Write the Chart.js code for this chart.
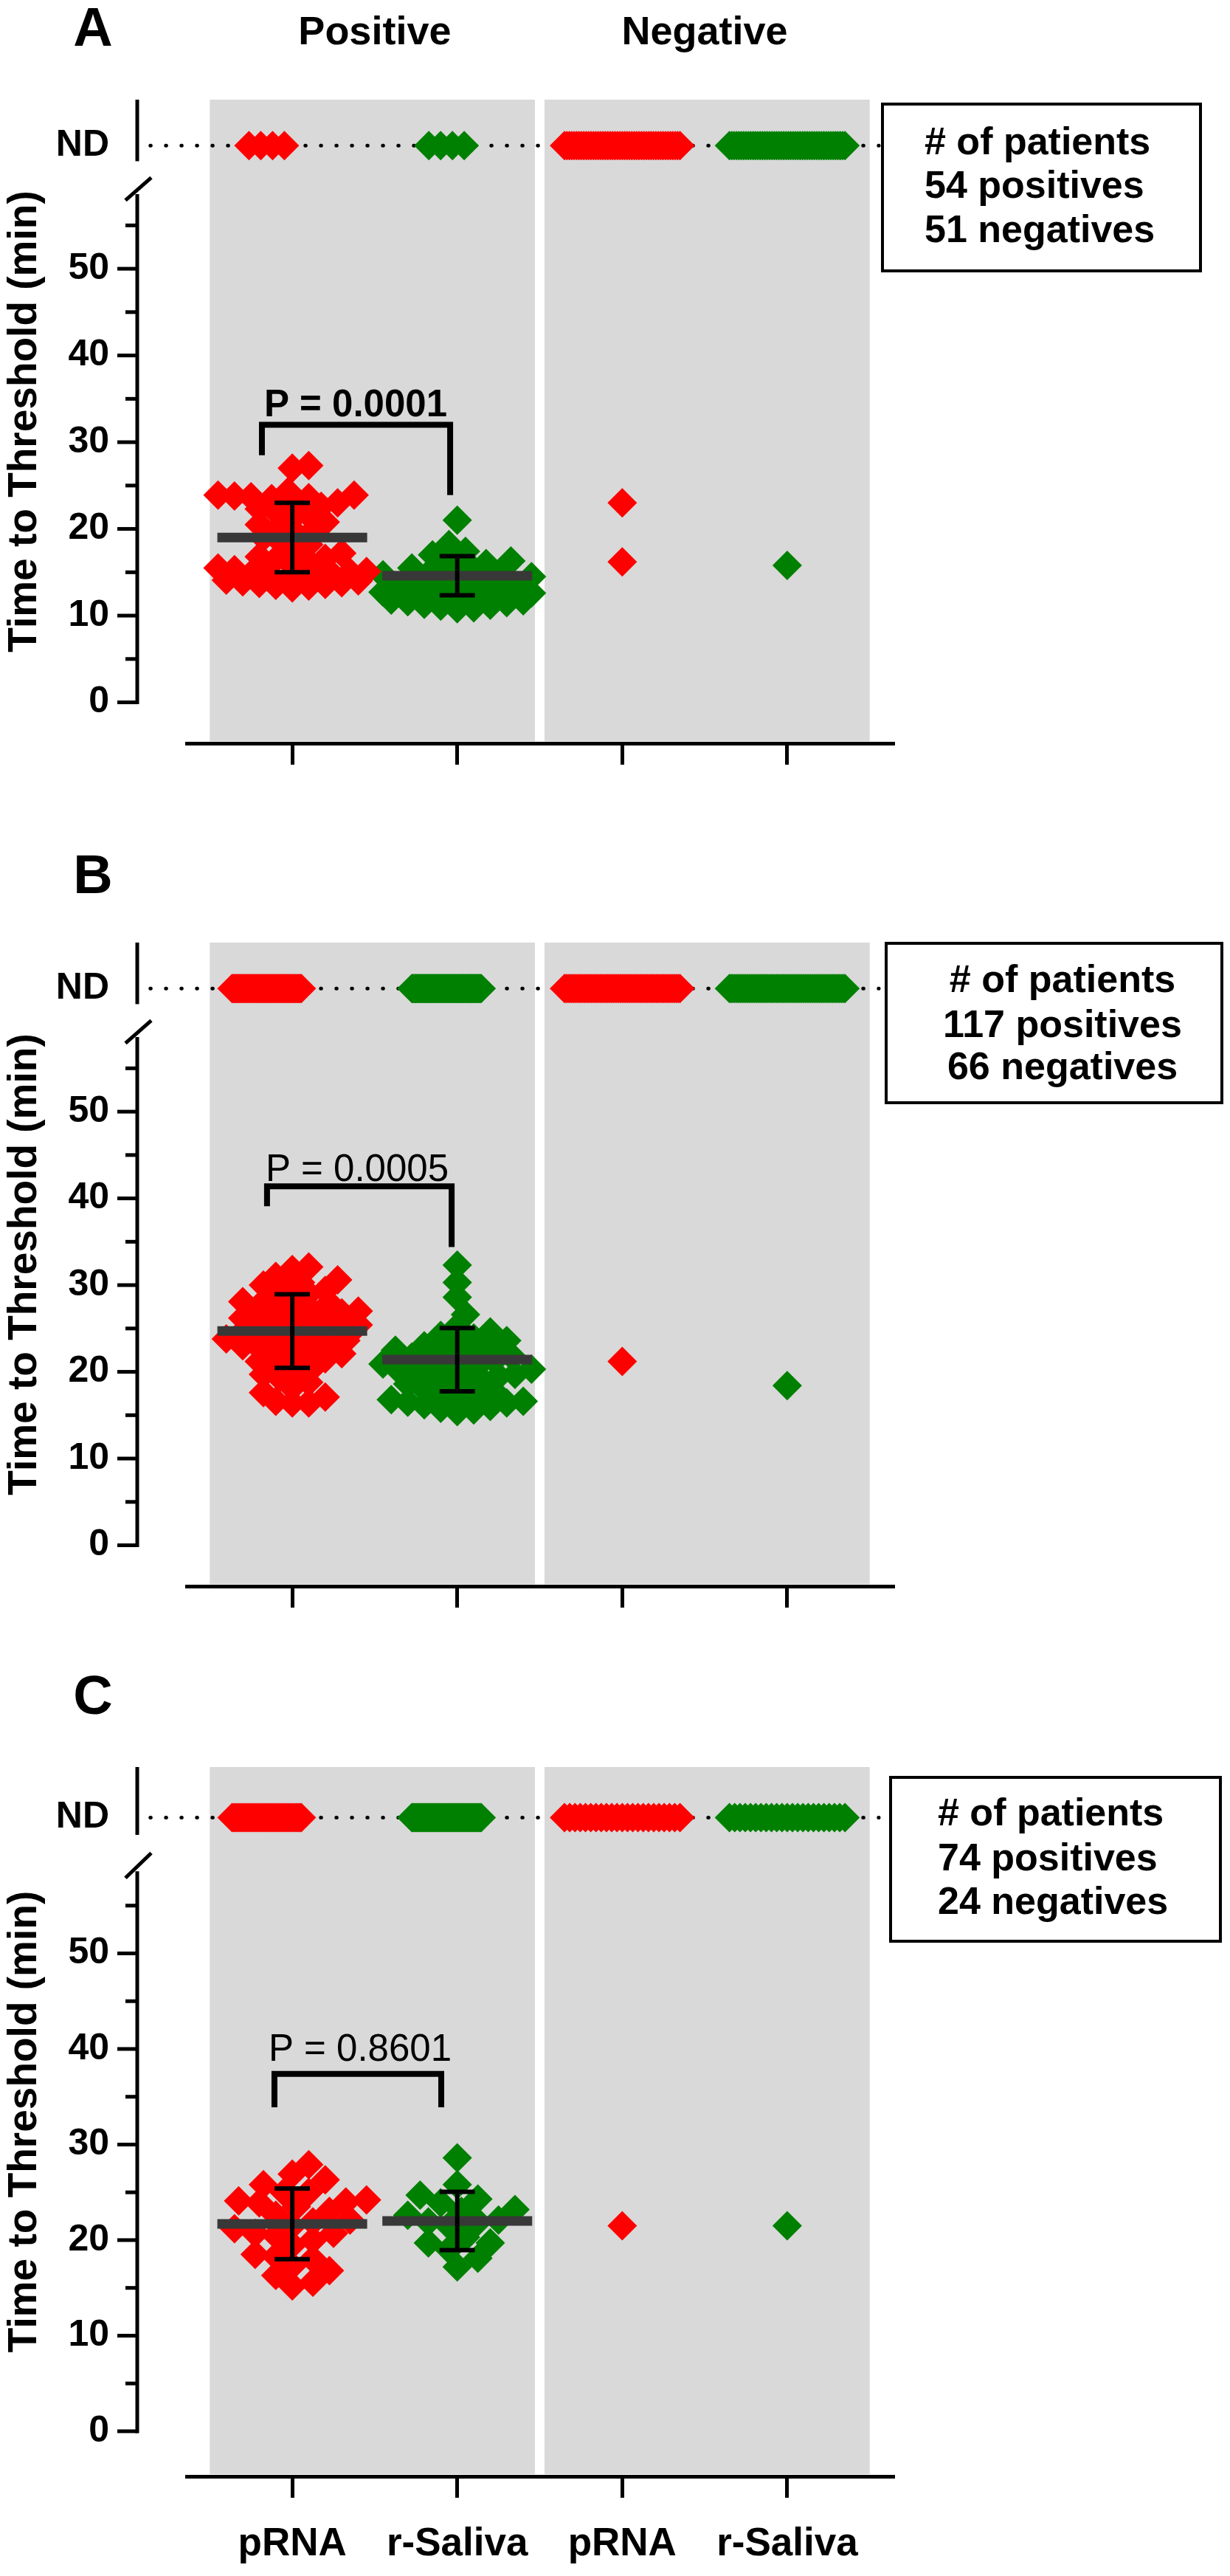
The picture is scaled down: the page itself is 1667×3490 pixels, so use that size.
<!DOCTYPE html>
<html>
<head>
<meta charset="utf-8">
<title>Time to Threshold</title>
<script src="https://cdn.jsdelivr.net/npm/chart.js@4.4.1/dist/chart.umd.min.js"></script>
<style>
  body { margin: 0; background: #fff; }
  #wrap { position: relative; width: 1667px; height: 3490px; overflow: hidden; }
  .panel { position: absolute; left: 0; width: 1667px; }
</style>
</head>
<body>
<div id="wrap">
  <div class="panel" id="boxA" style="top:0;height:1142px"><canvas id="chartA"></canvas></div>
  <div class="panel" id="boxB" style="top:1142px;height:1142px"><canvas id="chartB"></canvas></div>
  <div class="panel" id="boxC" style="top:2259px;height:1231px"><canvas id="chartC"></canvas></div>
</div>
<script>
const RED = '#ff0000';
const GREEN = '#008000';
const BAND = '#d9d9d9';
const INK = '#000000';
const MEAN_INK = '#383838';
const FONT = "'Liberation Sans', Arial, Helvetica, sans-serif";

const categories = ['pRNA', 'r-Saliva', 'pRNA', 'r-Saliva'];
const groupLabels = ['Positive', 'Negative'];
const yTicks = [0, 10, 20, 30, 40, 50];
const yMinorTicks = [5, 15, 25, 35, 45, 55];
const ND_LEVEL = 64.2;   // where the "not detected" row sits on the axis

// ---- panel A ----
const aPosPrna = [27.3, 27.0, 24.3, 23.9, 23.8, 23.7, 23.6, 23.5, 23.9, 23.0, 22.6, 22.3, 22.0, 22.8, 21.6, 21.2,
  20.8, 20.5, 20.2, 19.8, 19.4, 19.0, 18.6, 18.2, 17.6, 17.2, 16.8, 16.5, 16.2, 16.6, 15.8, 15.5, 15.3, 15.0, 14.8,
  14.6, 14.5, 14.3, 14.2, 14.0, 13.9, 13.8, 13.6, 13.5, 13.4, 13.2, 14.4, 14.1, 13.7, 15.1];
const aPosSaliva = [21.0, 18.2, 17.4, 17.0, 16.6, 16.3, 16.0, 15.8, 15.5, 15.3, 15.1, 14.9, 14.7, 14.5, 14.4, 14.2,
  14.1, 13.9, 13.8, 13.7, 13.6, 13.5, 13.4, 13.3, 13.2, 13.1, 13.0, 13.0, 12.9, 12.8, 12.7, 12.6, 12.6, 12.5, 12.4,
  12.3, 12.2, 12.1, 12.0, 11.9, 11.8, 11.7, 11.6, 11.5, 11.3, 11.2, 11.1, 10.9, 10.8, 12.9];
const aNegPrna = [23.0, 16.2];
const aNegSaliva = [15.8];
const aNdCounts = [4, 4, 49, 50];
const aMeans = [19.0, 14.6];
const aSds = [4.0, 2.25];
const aBracket = [28.5, 32.0, 23.9];
const aBracketX = [-0.184, 0.957];
const aPText = 'P = 0.0001';
const aPatients = ['# of patients', '54 positives', '51 negatives'];

// ---- panel B ----
const bPosPrna = [32.1, 31.8, 31.0, 30.6, 30.3, 30.0, 29.7, 29.4, 29.0, 28.7, 28.4, 28.1, 27.9, 27.6, 27.4, 27.2,
  27.0, 26.8, 26.6, 26.4, 26.2, 26.0, 25.8, 25.6, 25.4, 25.2, 25.0, 24.8, 24.6, 24.4, 24.2, 24.0, 23.8, 23.6, 23.4,
  23.2, 23.0, 22.8, 22.6, 22.4, 22.1, 21.8, 21.5, 21.2, 20.9, 20.5, 20.1, 19.7, 19.3, 18.8, 18.2, 17.6, 17.1, 16.6,
  16.4, 16.4];
const bPosSaliva = [32.3, 30.3, 28.6, 26.6, 25.2, 24.6, 24.2, 23.9, 23.6, 23.3, 23.0, 22.8, 22.5, 22.3, 22.1, 21.9,
  21.7, 21.5, 21.3, 21.1, 20.9, 20.7, 20.5, 20.3, 20.1, 19.9, 19.7, 19.5, 19.3, 19.1, 18.9, 18.6, 18.3, 18.0, 17.7,
  17.4, 17.1, 16.8, 16.6, 16.4, 16.2, 16.0, 15.8, 15.6, 15.4, 16.5, 17.0, 20.0];
const bNegPrna = [21.2];
const bNegSaliva = [18.4];
const bNdCounts = [61, 69, 65, 65];
const bMeans = [24.7, 21.4];
const bSds = [4.25, 3.65];
const bBracket = [39.1, 41.4, 34.4];
const bBracketX = [-0.153, 0.966];
const bPText = 'P = 0.0005';
const bPatients = ['# of patients', '117 positives', '66 negatives'];

// ---- panel C ----
const cPosPrna = [27.9, 26.9, 26.3, 25.8, 25.0, 25.0, 24.1, 24.0, 23.9, 24.2, 23.5, 23.0, 22.6, 22.1, 21.9, 21.5,
  21.2, 20.7, 20.5, 20.7, 20.0, 19.5, 18.5, 18.3, 18.0, 17.3, 16.8, 16.3, 15.6, 15.2];
const cPosSaliva = [28.6, 25.8, 24.7, 24.3, 23.9, 23.2, 23.0, 22.6, 22.1, 21.9, 21.9, 21.5, 20.3, 19.7, 19.7, 19.0,
  18.1, 17.2];
const cNegPrna = [21.5];
const cNegSaliva = [21.5];
const cNdCounts = [44, 56, 23, 23];
const cMeans = [21.7, 22.0];
const cSds = [3.7, 3.05];
const cBracket = [33.9, 37.4, 33.9];
const cBracketX = [-0.108, 0.903];
const cPText = 'P = 0.8601';
const cPatients = ['# of patients', '74 positives', '24 negatives'];

// beeswarm placement: px per unit on each axis, offsets in category units
const X_PX = 223.6;
const Y_PX = 13.756;
const SWARM_STEP = 0.025;
const SWARM_SLOTS = 18;
const ND_STEP = 0.0715;
const ND_SPAN = [0.42, 0.42, 0.70, 0.70];
const ND_SHIFT = [-0.155, -0.065, 0, 0];

function swarm(values, center, minDist) {
  const placed = [];
  values.slice().sort((a, b) => a - b).forEach(v => {
    let chosen = null, fallback = 0, bestGap = -1;
    for (let k = 0; k <= SWARM_SLOTS && chosen === null; k++) {
      const slots = k === 0 ? [0] : [k, -k];
      for (const s of slots) {
        const dx = s * SWARM_STEP;
        let gap = Infinity;
        placed.forEach(p => {
          gap = Math.min(gap, Math.hypot((p.dx - dx) * X_PX, (p.y - v) * Y_PX));
        });
        if (gap >= minDist) { chosen = dx; break; }
        if (gap > bestGap) { bestGap = gap; fallback = dx; }
      }
    }
    placed.push({ dx: chosen === null ? fallback : chosen, y: v });
  });
  return placed.map(p => ({ x: center + p.dx, y: p.y }));
}

function ndRow(count, i) {
  const step = count > 1 ? Math.min(ND_STEP, ND_SPAN[i] / (count - 1)) : 0;
  const pts = [];
  for (let k = 0; k < count; k++) {
    pts.push({ x: i + ND_SHIFT[i] + (k - (count - 1) / 2) * step, y: ND_LEVEL });
  }
  return pts;
}

function segment(pairs, color, width, order) {
  return {
    type: 'line',
    data: pairs.map(([x, y]) => ({ x, y })),
    borderColor: color,
    borderWidth: width,
    borderJoinStyle: 'miter',
    pointRadius: 0,
    tension: 0,
    clip: false,
    order
  };
}

function stroke(ctx, pts) {
  ctx.beginPath();
  ctx.moveTo(pts[0][0], pts[0][1]);
  pts.slice(1).forEach(p => ctx.lineTo(p[0], p[1]));
  ctx.stroke();
}

function createPanel(cfg) {
  const groups = [cfg.posPrna, cfg.posSaliva, cfg.negPrna, cfg.negSaliva];
  const datasets = [];

  // dotted ND line
  datasets.push({
    type: 'line',
    data: [{ x: -0.86, y: ND_LEVEL }, { x: 3.555, y: ND_LEVEL }],
    borderColor: INK,
    borderWidth: 5,
    borderDash: [0.5, 20.5],
    borderCapStyle: 'round',
    pointRadius: 0,
    clip: false,
    order: 10
  });

  groups.forEach((values, i) => {
    const color = i % 2 === 0 ? RED : GREEN;
    datasets.push({
      type: 'scatter',
      data: swarm(values, i, cfg.spacing).concat(ndRow(cfg.ndCounts[i], i)),
      pointStyle: 'rectRot',
      pointRadius: 20,
      pointHoverRadius: 20,
      pointBackgroundColor: color,
      pointBorderWidth: 0,
      backgroundColor: color,
      borderColor: color,
      clip: false,
      order: 5
    });
  });

  cfg.means.forEach((m, i) => {
    const sd = cfg.sds[i];
    datasets.push(segment([[i - 0.454, m], [i + 0.454, m]], MEAN_INK, 13, 3));
    datasets.push(segment([[i, m - sd], [i, m + sd]], INK, 6, 2));
    datasets.push(segment([[i - 0.107, m + sd], [i + 0.107, m + sd]], INK, 6, 2));
    datasets.push(segment([[i - 0.107, m - sd], [i + 0.107, m - sd]], INK, 6, 2));
  });

  const bx = cfg.bracketX, by = cfg.bracket;
  datasets.push(segment([[bx[0], by[0]], [bx[0], by[1]], [bx[1], by[1]], [bx[1], by[2]]], INK, 8, 1));

  const decor = {
    id: 'decor' + cfg.letter,
    beforeDatasetsDraw(chart) {
      const { ctx, chartArea } = chart;
      const xs = chart.scales.x, ys = chart.scales.y;
      const bottom = ys.getPixelForValue(-4.5);
      const left = xs.getPixelForValue(-0.5);
      const mid = xs.getPixelForValue(1.5);
      const right = xs.getPixelForValue(3.5);
      ctx.save();
      ctx.fillStyle = BAND;
      ctx.fillRect(left, chartArea.top, mid - 6.5 - left, bottom - chartArea.top);
      ctx.fillRect(mid + 6.5, chartArea.top, right - mid - 6.5, bottom - chartArea.top);
      ctx.restore();
    },
    afterDraw(chart) {
      const { ctx, chartArea } = chart;
      const xs = chart.scales.x, ys = chart.scales.y;
      const py = v => ys.getPixelForValue(v);
      const ax = chartArea.left - 67;

      ctx.save();
      // broken y axis
      ctx.strokeStyle = INK;
      ctx.lineWidth = 5;
      ctx.lineCap = 'butt';
      stroke(ctx, [[ax, chartArea.top], [ax, py(ND_LEVEL - 1.8)]]);
      stroke(ctx, [[ax, py(58.6)], [ax, py(0) + 2.5]]);
      stroke(ctx, [[ax - 16, py(57.9)], [ax + 19, py(60.5)]]);
      yTicks.forEach(v => stroke(ctx, [[ax - 27, py(v)], [ax, py(v)]]));
      yMinorTicks.forEach(v => stroke(ctx, [[ax - 16, py(v)], [ax, py(v)]]));

      ctx.fillStyle = INK;
      ctx.textAlign = 'center';
      ctx.textBaseline = 'alphabetic';
      ctx.font = `bold 74px ${FONT}`;
      ctx.fillText(cfg.letter, 126, cfg.letterY);

      if (cfg.showGroups) {
        ctx.font = `bold 54px ${FONT}`;
        groupLabels.forEach((g, i) => ctx.fillText(g, xs.getPixelForValue(0.5 + 2 * i), 60));
      }

      ctx.font = `${cfg.pBold ? 'bold ' : ''}51px ${FONT}`;
      ctx.fillText(cfg.pText, xs.getPixelForValue(cfg.pAt[0]), py(cfg.pAt[1]));

      const b = cfg.box;
      ctx.lineWidth = 4;
      ctx.strokeRect(b.x, b.y, b.w, b.h);
      ctx.font = `bold 52px ${FONT}`;
      ctx.textAlign = b.align;
      ctx.textBaseline = 'middle';
      cfg.patients.forEach((t, i) => ctx.fillText(t, b.textX, b.lines[i]));
      ctx.restore();
    }
  };

  return new Chart(document.getElementById(cfg.canvasId), {
    type: 'scatter',
    data: { datasets },
    options: {
      responsive: true,
      maintainAspectRatio: false,
      animation: false,
      events: [],
      layout: { padding: { top: 78, left: 0, right: 457, bottom: 0 } },
      plugins: { legend: { display: false }, tooltip: { enabled: false } },
      scales: {
        x: {
          type: 'linear',
          min: -0.64,
          max: 3.64,
          afterBuildTicks: s => { s.ticks = categories.map((c, i) => ({ value: i })); },
          afterFit: s => { s.height = cfg.height - 1099; },
          grid: { drawOnChartArea: false, drawTicks: true, tickLength: 29, lineWidth: 5, color: INK },
          border: { display: true, width: 5, color: INK },
          ticks: {
            display: cfg.showCategories,
            autoSkip: false,
            maxRotation: 0,
            padding: 32,
            color: INK,
            font: { family: FONT, size: 53, weight: 'bold' },
            callback: v => categories[v] ?? ''
          }
        },
        y: {
          type: 'linear',
          min: -4.72,
          max: 69.5,
          afterBuildTicks: s => { s.ticks = yTicks.concat([ND_LEVEL]).map(v => ({ value: v })); },
          afterFit: s => { s.width = 253; },
          grid: { display: false, drawTicks: false },
          border: { display: false },
          ticks: {
            autoSkip: false,
            padding: 105,
            color: INK,
            font: { family: FONT, size: 50, weight: 'bold' },
            callback: v => v === ND_LEVEL ? 'ND' : String(v)
          },
          title: {
            display: true,
            text: 'Time to Threshold (min)',
            color: INK,
            font: { family: FONT, size: 55, weight: 'bold' },
            padding: { top: 1, bottom: 0 }
          }
        }
      }
    },
    plugins: [decor]
  });
}

const chartA = createPanel({
  canvasId: 'chartA', letter: 'A', letterY: 62, height: 1142, showGroups: true, showCategories: false,
  posPrna: aPosPrna, posSaliva: aPosSaliva, negPrna: aNegPrna, negSaliva: aNegSaliva, ndCounts: aNdCounts,
  means: aMeans, sds: aSds, bracket: aBracket, bracketX: aBracketX, spacing: 21,
  pText: aPText, pBold: true, pAt: [0.384, 33.0], patients: aPatients,
  box: { x: 1196, y: 141, w: 431, h: 226, align: 'left', textX: 1253, lines: [195, 254, 314] }
});

const chartB = createPanel({
  canvasId: 'chartB', letter: 'B', letterY: 68, height: 1142, showGroups: false, showCategories: false,
  posPrna: bPosPrna, posSaliva: bPosSaliva, negPrna: bNegPrna, negSaliva: bNegSaliva, ndCounts: bNdCounts,
  means: bMeans, sds: bSds, bracket: bBracket, bracketX: bBracketX, spacing: 21,
  pText: bPText, pBold: false, pAt: [0.393, 42.0], patients: bPatients,
  box: { x: 1201, y: 136, w: 455, h: 216, align: 'center', textX: 1440, lines: [188, 249, 306] }
});

const chartC = createPanel({
  canvasId: 'chartC', letter: 'C', letterY: 63, height: 1231, showGroups: false, showCategories: true,
  posPrna: cPosPrna, posSaliva: cPosSaliva, negPrna: cNegPrna, negSaliva: cNegSaliva, ndCounts: cNdCounts,
  means: cMeans, sds: cSds, bracket: cBracket, bracketX: cBracketX, spacing: 26,
  pText: cPText, pBold: false, pAt: [0.411, 38.8], patients: cPatients,
  box: { x: 1207, y: 149, w: 447, h: 222, align: 'left', textX: 1271, lines: [200, 261, 320] }
});
</script>
</body>
</html>
